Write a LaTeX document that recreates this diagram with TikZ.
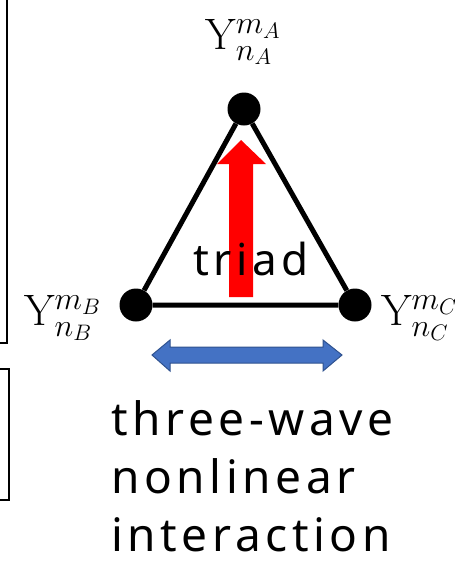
\RequirePackage{fix-cm}
\documentclass[tikz,border=0pt]{standalone}
\usepackage{fontspec}
\newfontfamily\wordfont[LetterSpace=10]{Noto Sans}
\newcommand\ylab[1]{$\mathrm{Y}^{\hbox{\fontsize{32}{40}\selectfont$m_{#1}$}}_{\hbox{\fontsize{32}{40}\selectfont$n_{#1}$}}$}
\usepackage{tikz}

\begin{document}
\begin{tikzpicture}[x=1pt,y=-1pt]
	\newcommand\vr{16.5};
	\newcommand\shaftl{229};
	\newcommand\shaftr{253};
	\newcommand\headb{164};

	\tikzset{
		mode/.style={circle,fill=black,inner sep=0pt,minimum size=2*\vr},
		modelabel/.style={inner sep=0pt,font=\fontsize{44}{50}\selectfont},
		word/.style={inner sep=0pt,font=\wordfont\fontsize{46}{50}\selectfont},
	}

	\useasboundingbox (0,0) rectangle (455,563);

	% frames cut at the left edge
	\draw[line width=2pt] (-3,343) -- (7,343) -- (7,-3);
	\draw[line width=2pt] (-3,369) -- (9,369) -- (9,500) -- (-3,500);

	% triad
	\node[mode] (A) at (244,109) {};
	\node[mode] (B) at (136,305) {};
	\node[mode] (C) at (355,305) {};
	\draw[line width=5pt,line join=round] (A) -- (B) -- (C) -- (A);

	\node[modelabel] (labA) at (243,42) {\ylab{A}};
	\node[modelabel,anchor=east] (labB) at (101,318) {\ylab{B}};
	\node[modelabel,anchor=west] (labC) at (381,318) {\ylab{C}};

	% red block arrow
	\fill[red] (\shaftl,297) -- (\shaftl,\headb) -- (217,\headb) -- (241,140)
		-- (266,\headb) -- (\shaftr,\headb) -- (\shaftr,297) -- cycle;

	\node[word,font=\wordfont\fontsize{44}{50}\selectfont,anchor=base] (triad) at (251,275) {triad};

	% blue double arrow
	\filldraw[fill={rgb,255:red,68;green,114;blue,196},draw={rgb,255:red,47;green,82;blue,143},line width=1pt]
		(152,355) -- (170,340) -- (170,347) -- (323,347) -- (323,340) -- (342,355)
		-- (323,371) -- (323,363) -- (170,363) -- (170,371) -- cycle;

	\node[word,anchor=base west] (three) at (111,435) {three-wave};
	\node[word,anchor=base west] (nonlin) at (111,493) {nonlinear};
	\node[word,anchor=base west] (inter) at (111,551) {interaction};
\end{tikzpicture}
\end{document}
